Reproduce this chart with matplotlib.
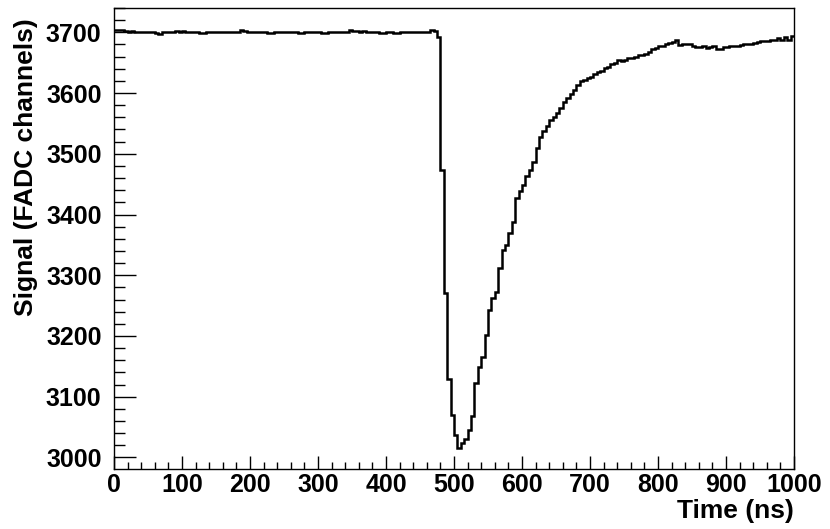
import numpy as np
import matplotlib
matplotlib.use("Agg")
import matplotlib.pyplot as plt
from matplotlib.ticker import MultipleLocator

# FADC trace, 5 ns bins from 0 to 1000 ns
bin_width = 5
baseline = [3703, 3703, 3703, 3702, 3701, 3702, 3700, 3701, 3700, 3700,
            3701, 3700, 3699, 3698, 3700, 3700, 3701, 3700, 3702, 3701,
            3702, 3700, 3700, 3701, 3700, 3699, 3699, 3700, 3700, 3701,
            3700, 3700, 3700, 3701, 3700, 3700, 3700, 3703, 3702, 3701,
            3700, 3701, 3701, 3700, 3701, 3699, 3699, 3700, 3701, 3700,
            3700, 3701, 3700, 3700, 3699, 3699, 3700, 3701, 3700, 3700,
            3701, 3699, 3699, 3700, 3701, 3700, 3700, 3701, 3700, 3703,
            3702, 3702, 3701, 3702, 3700, 3701, 3700, 3700, 3699, 3699,
            3700, 3701, 3699, 3699, 3700, 3701, 3700, 3700, 3700, 3701,
            3700, 3700, 3701, 3703, 3702]
pulse = [3693, 3473, 3270, 3130, 3070, 3037, 3015, 3023, 3031, 3046,
         3068, 3122, 3149, 3166, 3202, 3243, 3262, 3273, 3312, 3342,
         3350, 3369, 3388, 3427, 3438, 3449, 3464, 3473, 3487, 3509]
tail = [3528, 3537, 3545, 3556, 3560, 3567, 3575, 3586, 3591, 3599,
        3605, 3613, 3619, 3622, 3625, 3627, 3631, 3634, 3637, 3641,
        3643, 3647, 3649, 3655, 3652, 3655, 3657, 3658, 3660, 3662,
        3663, 3665, 3667, 3672, 3674,
        3677, 3678, 3680, 3682, 3684, 3687, 3679, 3681, 3681, 3681,
        3677, 3675, 3676, 3677, 3674, 3675, 3677, 3673, 3673, 3675,
        3676, 3677, 3678, 3678, 3679, 3680, 3681, 3680, 3683, 3684,
        3685, 3685, 3686, 3687, 3687, 3691, 3687, 3692, 3687, 3694]

signal = np.array(baseline + pulse + tail)
edges = np.arange(0, bin_width * (len(signal) + 1), bin_width)

plt.rcParams['font.family'] = ['Liberation Sans', 'DejaVu Sans']
plt.rcParams['font.weight'] = 'bold'

fig = plt.figure(figsize=(8.3, 5.29), dpi=100)
ax = fig.add_axes([114 / 830, 1 - 469 / 529, 680 / 830, 461 / 529])

ax.stairs(signal, edges, baseline=None, color='black', lw=1.8)

ax.set_xlim(0, 1000)
ax.set_ylim(2981, 3740)

ax.xaxis.set_major_locator(MultipleLocator(100))
ax.xaxis.set_minor_locator(MultipleLocator(20))
ax.yaxis.set_major_locator(MultipleLocator(100))
ax.yaxis.set_minor_locator(MultipleLocator(20))

ax.tick_params(axis='both', which='both', direction='in', top=False, right=False,
               labelsize=18, width=1.0)
ax.tick_params(axis='x', which='major', length=9.5, pad=3)
ax.tick_params(axis='x', which='minor', length=4.7)
ax.tick_params(axis='y', which='major', length=16, pad=9)
ax.tick_params(axis='y', which='minor', length=8)
for lab in ax.get_xticklabels() + ax.get_yticklabels():
    lab.set_fontweight('bold')

for s in ax.spines.values():
    s.set_linewidth(1.0)

ax.set_xlabel("Time (ns)", loc='right', fontsize=19, fontweight='bold')
ax.xaxis.set_label_coords(1.0, -0.064)
ax.set_ylabel("Signal (FADC channels)", loc='top', fontsize=19, fontweight='bold')
ax.yaxis.set_label_coords(-0.112, 0.978)

fig.savefig("out.png", dpi=100)
